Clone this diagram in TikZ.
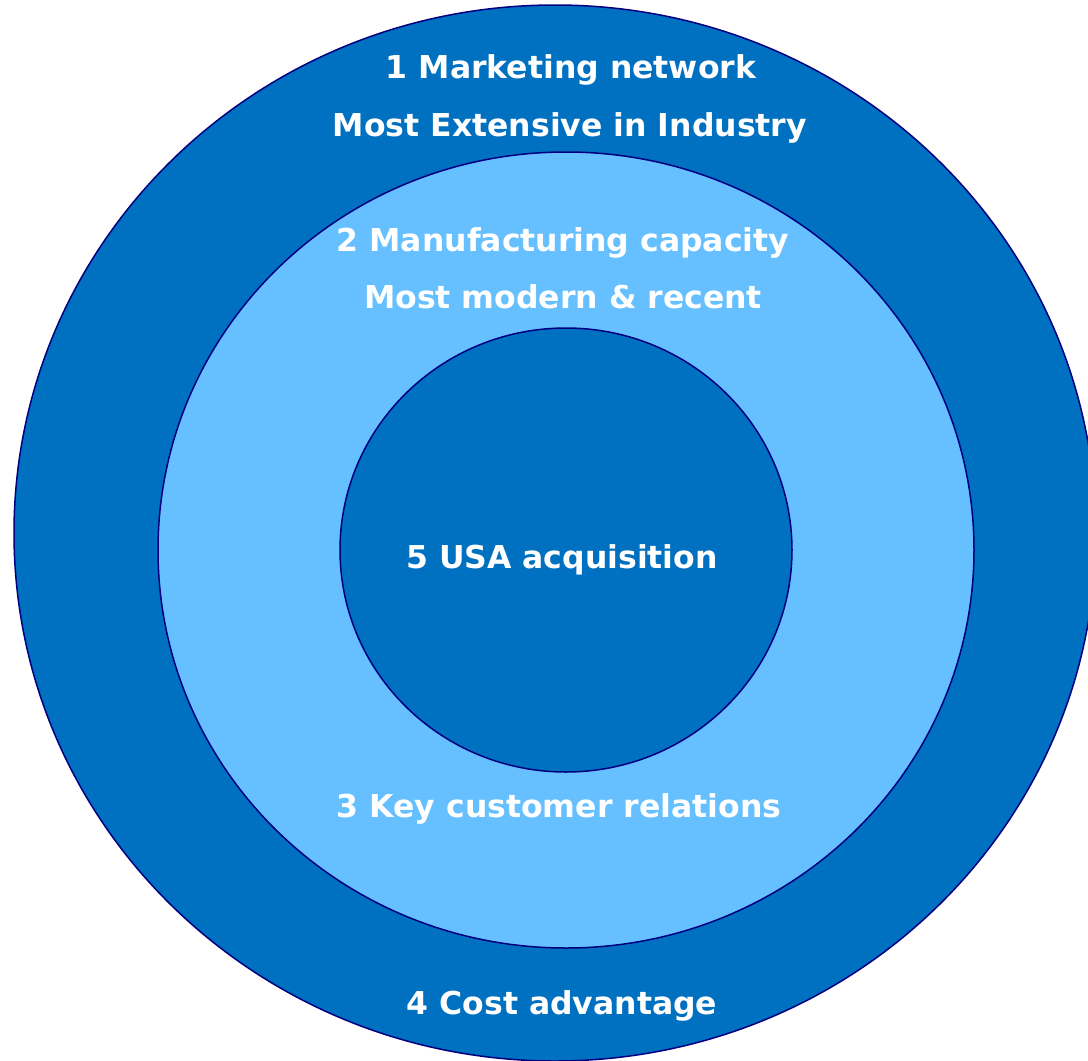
\documentclass[tikz,border=0pt]{standalone}
\usepackage{xcolor}
\usepackage{tikz}
\usepackage{fontspec}
\setmainfont{DejaVu Sans}
\usetikzlibrary{positioning,calc}
\definecolor{ringdark}{HTML}{0070C0}
\definecolor{ringlight}{HTML}{66C0FF}
\definecolor{ringline}{HTML}{000080}
\tikzset{
    ring/.style={draw=ringline, line width=1.5pt},
    lbl/.style={text=white, font=\bfseries\fontsize{31.5}{36}\selectfont, anchor=base, inner sep=0pt}
}

\begin{document}
\begin{tikzpicture}[x=1pt,y=-1pt]
    \useasboundingbox (0,0) rectangle (1088,1061);
    \fill[white] (0,0) rectangle (1088,1061);
    \draw[ring, fill=ringdark] (555,533) ellipse (541 and 528);
    \draw[ring, fill=ringlight] (566,550) ellipse (408 and 398);
    \draw[ring, fill=ringdark] (566,550) ellipse (226 and 222);
    \node[lbl] (market) at (571,78) {1 Marketing network};
    \node[lbl] (extensive) at (570,136) {Most Extensive in Industry};
    \node[lbl] (manuf) at (563,251) {2 Manufacturing capacity};
    \node[lbl] (modern) at (563,308) {Most modern \& recent};
    \node[lbl] (usa) at (562,568) {5 USA acquisition};
    \node[lbl] (customer) at (559,817) {3 Key customer relations};
    \node[lbl] (cost) at (562,1014) {4 Cost advantage};
\end{tikzpicture}
\end{document}
